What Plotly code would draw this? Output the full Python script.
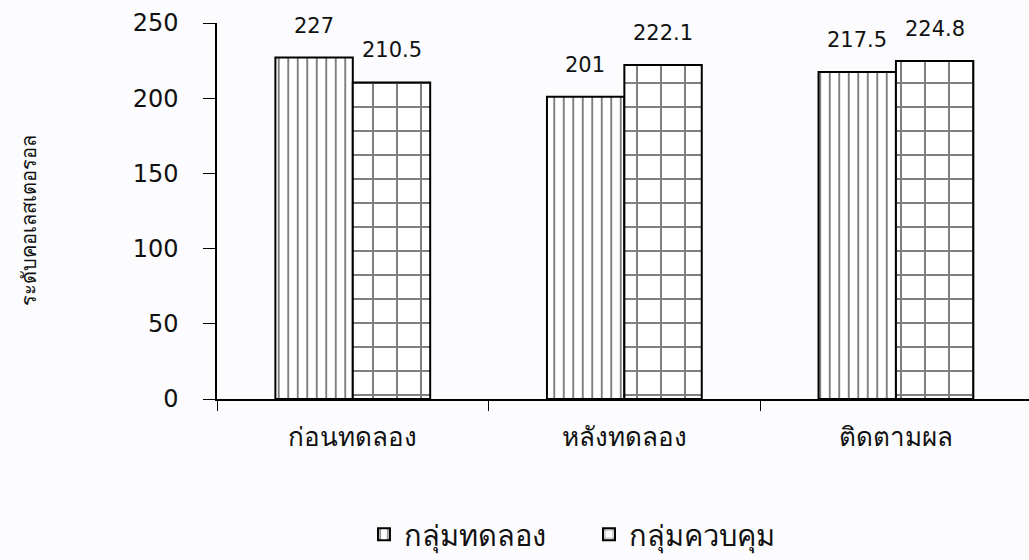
import plotly.graph_objects as go

categories = ["ก่อนทดลอง", "หลังทดลอง", "ติดตามผล"]
experimental = [227, 201, 217.5]
control = [210.5, 222.1, 224.8]
series_names = ["กลุ่มทดลอง", "กลุ่มควบคุม"]
y_ticks = [0, 50, 100, 150, 200, 250]
y_title = "ระดับคอเลสเตอรอล"

FONT = "Verdana, DejaVu Sans, sans-serif"

fig = go.Figure()
fig.add_trace(go.Bar(
    x=categories, y=experimental, name=series_names[0],
    marker=dict(color="white", line=dict(color="black", width=2),
                pattern=dict(shape="|", fgcolor="black", bgcolor="white",
                             size=9.5, solidity=0.2)),
))
fig.add_trace(go.Bar(
    x=categories, y=control, name=series_names[1],
    marker=dict(color="white", line=dict(color="black", width=2),
                pattern=dict(shape="+", fgcolor="black", bgcolor="white",
                             size=24, solidity=0.16)),
))

# value labels above each bar
for vals, shift in ((experimental, -39), (control, 39)):
    for cat, v in zip(categories, vals):
        fig.add_annotation(x=cat, y=v, text=f"{v:g}", showarrow=False,
                           xshift=shift, yshift=32,
                           font=dict(family=FONT, size=21, color="#111"))

# rotated y-axis title
fig.add_annotation(x=-0.2315, y=0.473, xref="paper", yref="paper",
                   xanchor="center", yanchor="middle", textangle=-90,
                   text=y_title, showarrow=False,
                   font=dict(family=FONT, size=20, color="#111"))

fig.update_layout(
    width=1029, height=560,
    margin=dict(l=217, r=0, t=23, b=159),
    paper_bgcolor="#fcfcfe", plot_bgcolor="#fcfcfe",
    barmode="group", bargap=0.43, bargroupgap=0,
    font=dict(family=FONT, size=18, color="#111"),
    showlegend=True,
    legend=dict(orientation="h", x=0.181, xanchor="left", y=-0.36, yanchor="middle",
                font=dict(size=29), itemwidth=30, entrywidth=180, entrywidthmode="pixels",
                bgcolor="rgba(0,0,0,0)"),
)
fig.update_xaxes(
    range=[-0.5, 2.49], showline=True, linecolor="black", linewidth=1.5,
    ticks="outside", tickson="boundaries", ticklen=10, tickcolor="black",
    showgrid=False, tickfont=dict(size=26), ticklabelstandoff=14,
)
fig.update_yaxes(
    range=[0, 250], tickvals=y_ticks, showline=True, linecolor="black", linewidth=1.5,
    ticks="outside", ticklen=12, tickcolor="black", showgrid=False, zeroline=False,
    tickfont=dict(size=24), ticklabelstandoff=20,
)

fig.write_html("out.html")
